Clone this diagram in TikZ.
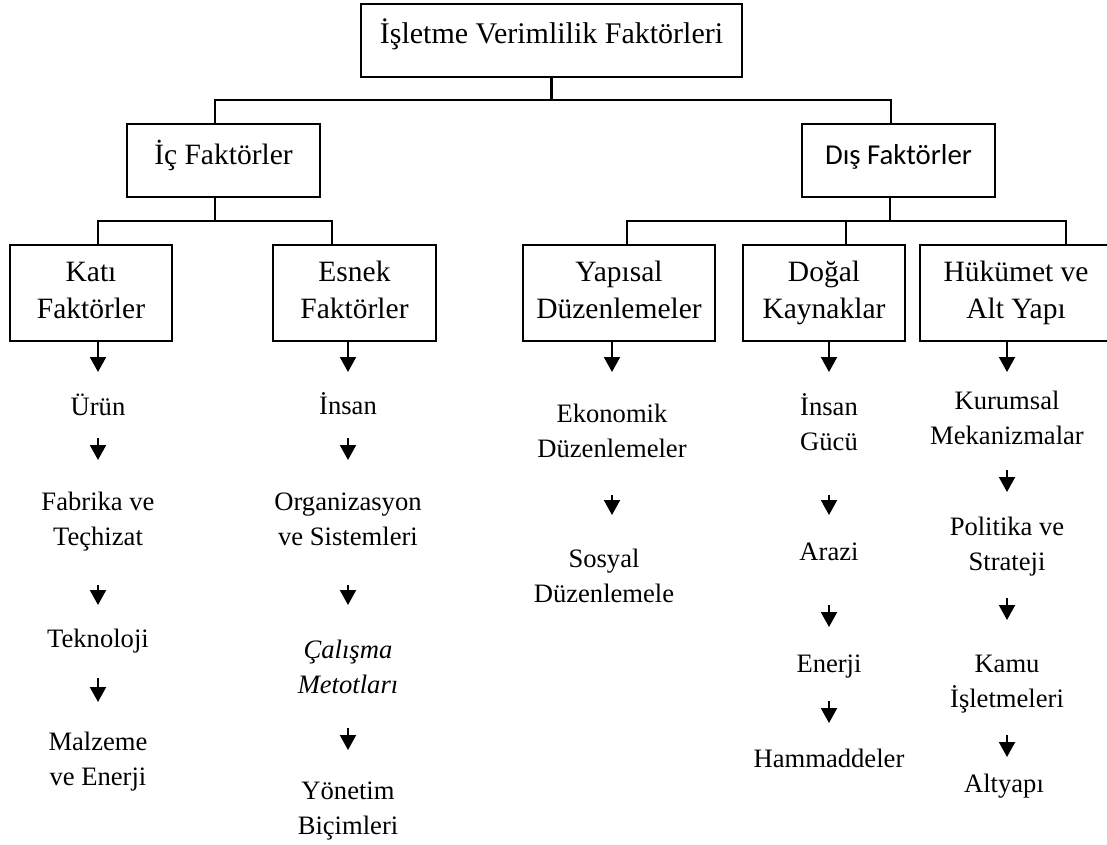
\documentclass[tikz,border=0pt]{standalone}
\usepackage{fontspec}
\setmainfont{Liberation Serif}
\newfontfamily\calibrifont{Carlito}
\usetikzlibrary{arrows.meta}

\begin{document}
\begin{tikzpicture}[x=1pt,y=-1pt,
  conn/.style={line width=2.1pt},
  arr/.style={line width=2.1pt,-{Triangle[width=16pt,length=15pt]}},
  hbox/.style={draw,line width=2.1pt,inner sep=0pt,minimum height=73pt,
    text height=21pt,text depth=12.6pt,font=\fontsize{29.5}{36}\selectfont},
  box/.style={draw,line width=2.1pt,inner sep=0pt,minimum height=96pt,
    align=center,font=\fontsize{29.5}{37}\selectfont},
  item/.style={inner sep=0pt,align=center,font=\fontsize{26.6}{35}\selectfont},
]
\useasboundingbox (0,0) rectangle (1107,844);

% root and first level
\node[hbox,minimum width=381pt,text depth=16pt,font=\fontsize{30}{36}\selectfont]
  (root) at (551.5,40.5) {İşletme Verimlilik Faktörleri};
\node[hbox,minimum width=193pt] (ic) at (223.5,160.5) {İç Faktörler};
\node[hbox,minimum width=193pt,font=\calibrifont\fontsize{28.8}{34}\selectfont]
  (dis) at (898.5,160.5) {Dış Faktörler};

% second level
\node[box,minimum width=162pt] (kati)  at (91,293)   {\strut Katı\\\strut Faktörler};
\node[box,minimum width=163pt] (esnek) at (354.5,293) {\strut Esnek\\\strut Faktörler};
\node[box,minimum width=192pt] (yap)   at (619,293)  {\strut Yapısal\\\strut Düzenlemeler};
\node[box,minimum width=162pt] (dog)   at (824,293)  {\strut Doğal\\\strut Kaynaklar};
\node[box,minimum width=192pt] (huk)   at (1016,293) {\strut Hükümet ve\\\strut Alt Yapı};

% tree connectors
\coordinate (busL) at (215,100);
\coordinate (busR) at (891,100);
\draw[conn] (root.south) -- (root.south |- busL);
\draw[conn] (ic.north -| busL) -- (busL) -- (busR) -- (busR |- dis.north);

\coordinate (icJ)    at (215,221);
\coordinate (katiJ)  at (98,221);
\coordinate (esnekJ) at (332,221);
\draw[conn] (ic.south -| icJ) -- (icJ);
\draw[conn] (katiJ |- kati.north) -- (katiJ) -- (esnekJ) -- (esnekJ |- esnek.north);

\coordinate (disJ) at (890,221);
\coordinate (yapJ) at (627,221);
\coordinate (dogJ) at (846,221);
\coordinate (hukJ) at (1066,221);
\draw[conn] (dis.south -| disJ) -- (disJ);
\draw[conn] (yapJ |- yap.north) -- (yapJ) -- (hukJ) -- (hukJ |- huk.north);
\draw[conn] (dogJ) -- (dogJ |- dog.north);

% column: Katı Faktörler
\node[item] (urun) at (98,408)   {\strut Ürün};
\node[item] (fab)  at (98,520.5) {\strut Fabrika ve\\\strut Teçhizat};
\node[item] (tek)  at (98,640)   {\strut Teknoloji};
\node[item] (malz) at (98,760.5) {\strut Malzeme\\\strut ve Enerji};
\draw[arr,shorten >=36pt] (urun |- kati.south) -- (urun.center);
\draw[arr,shorten <=30pt,shorten >=60.5pt] (urun.center) -- (fab.center);
\draw[arr,shorten <=64.5pt,shorten >=35pt] (fab.center) -- (tek.center);
\draw[arr,shorten <=38pt,shorten >=58.5pt] (tek.center) -- (malz.center);

% column: Esnek Faktörler
\node[item] (insan) at (348,407)   {\strut İnsan};
\node[item] (org)   at (348,520.5) {\strut Organizasyon\\\strut ve Sistemleri};
\node[item] (cal)   at (348,669)   {\itshape\strut Çalışma\\\itshape\strut Metotları};
\node[item] (yon)   at (348,809.5) {\strut Yönetim\\\strut Biçimleri};
\draw[arr,shorten >=35pt] (insan |- esnek.south) -- (insan.center);
\draw[arr,shorten <=31pt,shorten >=60.5pt] (insan.center) -- (org.center);
\draw[arr,shorten <=64.5pt,shorten >=64pt] (org.center) -- (cal.center);
\draw[arr,shorten <=59pt,shorten >=59.5pt] (cal.center) -- (yon.center);

% column: Yapısal Düzenlemeler
\node[item] (eko) at (612,432.5) {\strut Ekonomik\\\strut Düzenlemeler};
\node[item] (sos) at (604,577.5) {\strut Sosyal\\\strut Düzenlemele};
\draw[arr,shorten >=60.5pt] (eko |- yap.south) -- (eko.center);
\draw[arr,shorten <=62.5pt,shorten >=62.5pt] (eko.center) -- (eko.center |- sos.center);

% column: Doğal Kaynaklar
\node[item] (guc)   at (829,425.5) {\strut İnsan\\\strut Gücü};
\node[item] (arazi) at (829,553)   {\strut Arazi};
\node[item] (ener)  at (829,665)   {\strut Enerji};
\node[item] (ham)   at (829,760)   {\strut Hammaddeler};
\draw[arr,shorten >=53.5pt] (guc |- dog.south) -- (guc.center);
\draw[arr,shorten <=69.5pt,shorten >=38pt] (guc.center) -- (arazi.center);
\draw[arr,shorten <=52pt,shorten >=38pt] (arazi.center) -- (ener.center);
\draw[arr,shorten <=36pt,shorten >=37pt] (ener.center) -- (ham.center);

% column: Hükümet ve Alt Yapı
\node[item] (kur)  at (1007,419.5) {\strut Kurumsal\\\strut Mekanizmalar};
\node[item] (pol)  at (1007,545.5) {\strut Politika ve\\\strut Strateji};
\node[item] (kamu) at (1007,682.5) {\strut Kamu\\\strut İşletmeleri};
\node[item] (alt)  at (1004,785)   {\strut Altyapı};
\draw[arr,shorten >=47.5pt] (kur |- huk.south) -- (kur.center);
\draw[arr,shorten <=50.5pt,shorten >=53.5pt] (kur.center) -- (pol.center);
\draw[arr,shorten <=52.5pt,shorten >=62.5pt] (pol.center) -- (kamu.center);
\draw[arr,shorten <=52.5pt,shorten >=28pt] (kamu.center) -- (kamu.center |- alt.center);
\end{tikzpicture}
\end{document}
